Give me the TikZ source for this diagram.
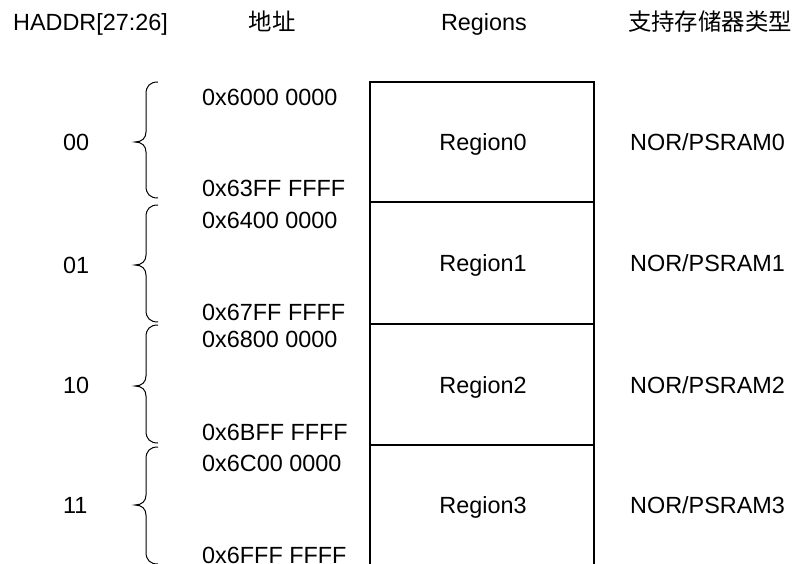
\documentclass[tikz,border=0pt]{standalone}
\usepackage{fontspec}
\setmainfont{Liberation Sans}
\newfontfamily\cjk{Noto Sans CJK SC}
\newcommand\mybrace[3]{%
  \draw[bracestyle] (158,#1) .. controls (150,#1) and (146,{#1+4}) .. (146,{#1+12})
    -- (146,{#2-10}) .. controls (146,{#2-4}) and (142,#2) .. (135,#2)
    .. controls (142,#2) and (146,{#2+4}) .. (146,{#2+10})
    -- (146,{#3-12}) .. controls (146,{#3-4}) and (150,#3) .. (158,#3);}
\begin{document}
\begin{tikzpicture}[x=1pt,y=-1pt,
  lbl/.style={inner sep=0pt,font=\fontsize{23.4}{28}\selectfont},
  addr/.style={lbl,anchor=base west},
  ctr/.style={lbl,anchor=base},
  boxline/.style={line width=1.1pt},
  bracestyle/.style={line width=1pt}]
\useasboundingbox (0,0) rectangle (793,564);
\clip (0,0) rectangle (793,564);
% headers
\node[addr] (h1) at (13,31) {HADDR[27:26]};
\node[ctr] (h2) at (272,31) {\cjk 地址};
\node[ctr] (h3) at (484,31) {Regions};
\node[ctr] (h4) at (710,31) {\cjk 支持存储器类型};
% box
\coordinate (bt) at (370,82);
\draw[boxline] (370,570) -- (370,82) -- (594,82) -- (594,570);
\draw[boxline] (370,202) -- (594,202);
\draw[boxline] (370,324) -- (594,324);
\draw[boxline] (370,445) -- (594,445);
% braces
\mybrace{82}{142}{198}
\mybrace{205}{265}{322}
\mybrace{325}{386}{443}
\mybrace{447}{505}{564}
% row labels
\node[addr] (r0) at (63,150.4) {00};
\node[addr] (r1) at (63,273.4) {01};
\node[addr] (r2) at (63,393.4) {10};
\node[addr] (r3) at (63,513.4) {11};
% addresses
\node[addr] (a0s) at (202,105.4) {0x6000 0000};
\node[addr] (a0e) at (202,196.4) {0x63FF FFFF};
\node[addr] (a1s) at (202,228.4) {0x6400 0000};
\node[addr] (a1e) at (202,320.4) {0x67FF FFFF};
\node[addr] (a2s) at (202,347.4) {0x6800 0000};
\node[addr] (a2e) at (202,440.4) {0x6BFF FFFF};
\node[addr] (a3s) at (202,471.4) {0x6C00 0000};
\node[addr] (a3e) at (202,563.4) {0x6FFF FFFF};
% regions
\node[ctr] (g0) at (483,150.4) {Region0};
\node[ctr] (g1) at (483,271.4) {Region1};
\node[ctr] (g2) at (483,393.4) {Region2};
\node[ctr] (g3) at (483,513.4) {Region3};
% types
\node[addr] (t0) at (630,150.4) {NOR/PSRAM0};
\node[addr] (t1) at (630,271.4) {NOR/PSRAM1};
\node[addr] (t2) at (630,393.4) {NOR/PSRAM2};
\node[addr] (t3) at (630,513.4) {NOR/PSRAM3};
\end{tikzpicture}
\end{document}
